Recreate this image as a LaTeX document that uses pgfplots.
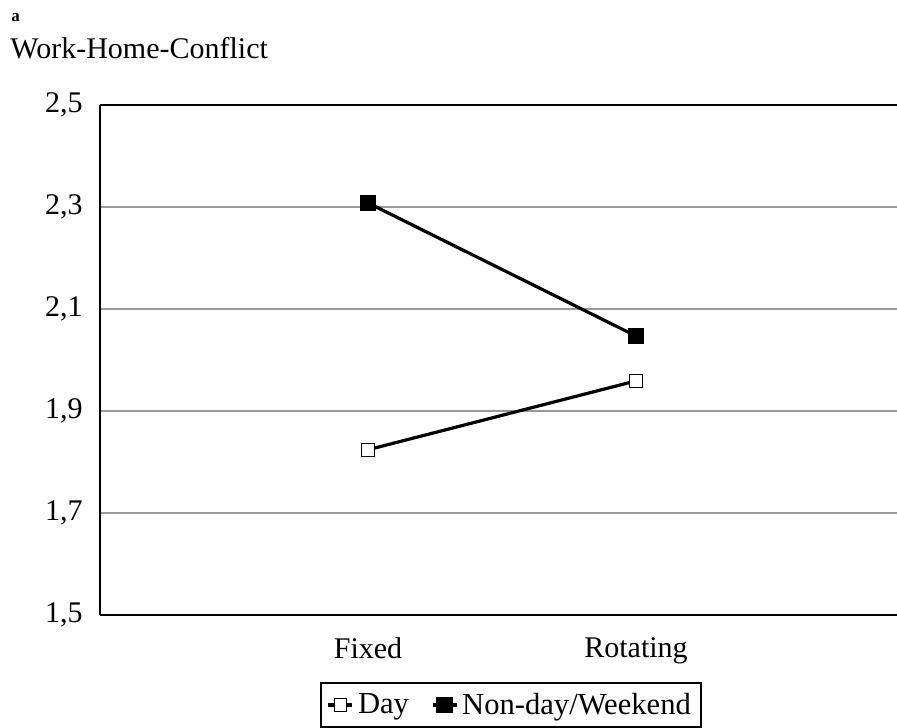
\documentclass[border=0pt]{standalone}
\usepackage{pgfplots}
\pgfplotsset{compat=1.18}
\usepackage{fontspec}
\setmainfont{Liberation Serif}
\begin{document}
\begin{tikzpicture}
\path[use as bounding box] (0,0) rectangle (448.5pt,363.5pt);
\node[anchor=base west, inner sep=0pt, font=\fontsize{8.5}{10}\selectfont\bfseries] at (5.5pt,352.5pt) {a};
\node[anchor=base west, inner sep=0pt, font=\fontsize{15}{18}\selectfont] at (5pt,334pt) {Work-Home-Conflict};
\begin{axis}[
  at={(50pt,56pt)}, anchor=south west,
  scale only axis, width=402pt, height=255pt,
  xmin=0, xmax=3, ymin=1.5, ymax=2.5,
  axis x line=box, axis y line=left,
  x axis line style={line width=1.3pt},
  y axis line style={-, line width=1.2pt},
  xtick={1,2}, xticklabels={Fixed,Rotating},
  ytick={1.5,1.7,1.9,2.1,2.3,2.5},
  major tick length=0pt,
  ymajorgrids, grid style={gray!80, line width=0.9pt},
  /pgf/number format/.cd, use comma, fixed, fixed zerofill, precision=1, assume math mode=true,
  /pgfplots/.cd,
  tick label style={font=\fontsize{15}{18}\selectfont},
  yticklabel style={anchor=east, inner sep=0pt, xshift=-8.5pt},
  xticklabel style={anchor=north, inner sep=0pt, yshift=-11pt},
  legend style={at={(0.511,-0.131)}, anchor=north, draw=black, line width=1pt,
    font=\fontsize{15.3}{18}\selectfont, inner xsep=3pt, inner ysep=3pt,
    /tikz/every even column/.append style={column sep=9pt}},
  legend columns=2,
  legend image code/.code={\draw[mark repeat=2, mark phase=2, #1] plot coordinates {(0pt,0pt) (6pt,0pt) (12pt,0pt)};},
]
\addplot[black, line width=1.6pt, mark=square*, mark options={fill=white, line width=0.5pt, solid}, mark size=3.2pt]
  coordinates {(1,1.824) (2,1.959)};
\addlegendentry{Day}
\addplot[black, line width=1.6pt, mark=square*, mark options={fill=black, solid}, mark size=3.4pt]
  coordinates {(1,2.308) (2,2.047)};
\addlegendentry{Non-day/Weekend}
\end{axis}
\end{tikzpicture}
\end{document}
